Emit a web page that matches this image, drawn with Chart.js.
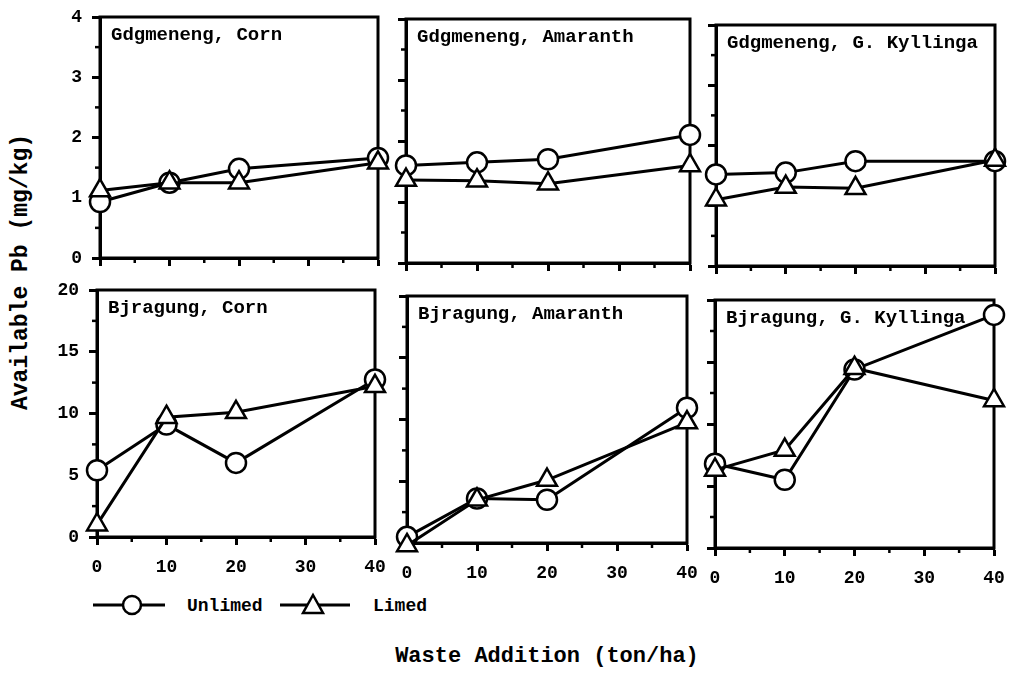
<!DOCTYPE html>
<html><head><meta charset="utf-8">
<script src="https://cdn.jsdelivr.net/npm/chart.js@4.4.1/dist/chart.umd.min.js"></script>
<style>
html,body{margin:0;padding:0;background:#fff;width:1009px;height:676px;overflow:hidden;}
body{position:relative;font-family:"Liberation Mono","DejaVu Sans Mono",monospace;font-weight:bold;color:#000;}
canvas{position:absolute;}
.t{position:absolute;white-space:pre;font-weight:bold;line-height:1;}
#ytitle{left:21px;top:272px;font-size:23px;transform:translate(-50%,-50%) rotate(-90deg);}
#xtitle{left:547px;top:657px;font-size:22px;transform:translate(-50%,-50%);}
#legend{position:absolute;left:0;top:0;width:1009px;height:676px;pointer-events:none;}
.lt{font-size:18px;transform:translateY(-50%);}
</style></head><body>
<div class="t" id="ytitle">Available Pb (mg/kg)</div>
<div class="t" id="xtitle">Waste Addition (ton/ha)</div>
<svg id="legend" width="1009" height="676">
  <line x1="93" y1="605" x2="165" y2="605" stroke="#000" stroke-width="3"/>
  <circle cx="132" cy="605" r="9" fill="#fff" stroke="#000" stroke-width="2.5"/>
  <line x1="280" y1="605" x2="350" y2="605" stroke="#000" stroke-width="3"/>
  <polygon points="313,595 323,613 303,613" fill="#fff" stroke="#000" stroke-width="2.5"/>
</svg>
<div class="t lt" style="left:187px;top:606px;">Unlimed</div>
<div class="t lt" style="left:373px;top:606px;">Limed</div>
<script>
// ---- data ----
const wasteAddition = [0, 10, 20, 40];
const xTickValues = [0, 10, 20, 30, 40];
const topYTicks = [0, 1, 2, 3, 4];
const bottomYTicks = [0, 5, 10, 15, 20];
const seriesNames = ['Unlimed', 'Limed'];
const panelTitles = ['Gdgmeneng, Corn', 'Gdgmeneng, Amaranth', 'Gdgmeneng, G. Kyllinga',
                     'Bjragung, Corn', 'Bjragung, Amaranth', 'Bjragung, G. Kyllinga'];
const unlimedGdCorn = [0.93, 1.25, 1.48, 1.66];
const limedGdCorn   = [1.12, 1.25, 1.25, 1.58];
const unlimedGdAmaranth = [1.6, 1.65, 1.7, 2.1];
const limedGdAmaranth   = [1.36, 1.35, 1.3, 1.6];
const unlimedGdKyllinga = [1.52, 1.55, 1.74, 1.74];
const limedGdKyllinga   = [1.1, 1.31, 1.29, 1.76];
const unlimedBjCorn = [5.4, 9.1, 6.0, 12.75];
const limedBjCorn   = [1.0, 9.7, 10.1, 12.2];
const unlimedBjAmaranth = [0.5, 3.6, 3.5, 10.95];
const limedBjAmaranth   = [-0.2, 3.5, 5.1, 9.75];
const unlimedBjKyllinga = [6.8, 5.5, 14.4, 18.8];
const limedBjKyllinga   = [6.3, 7.9, 14.5, 11.9];

const panelSeries = [
  [unlimedGdCorn, limedGdCorn], [unlimedGdAmaranth, limedGdAmaranth], [unlimedGdKyllinga, limedGdKyllinga],
  [unlimedBjCorn, limedBjCorn], [unlimedBjAmaranth, limedBjAmaranth], [unlimedBjKyllinga, limedBjKyllinga]
];

// ---- layout (plot-area boxes, px) ----
const boxes = [
  {l:100, r:378, t:15,  b:260}, {l:406, r:690, t:17,  b:265}, {l:716, r:995, t:23,  b:268},
  {l:97,  r:375, t:288, b:537}, {l:407, r:687, t:294, b:543}, {l:715, r:994, t:298, b:548}
];
const FONT = {family:'"Liberation Mono", monospace', weight:'bold', size:18};
const YW = 45, PADT = 12, PADR = 14;

const framePlugin = {
  id:'frame',
  beforeDatasetsDraw(chart, args, opts){
    const {ctx, chartArea:a} = chart;
    ctx.save();
    ctx.strokeStyle = '#000'; ctx.lineWidth = 3;
    ctx.strokeRect(a.left, a.top, a.right - a.left, a.bottom - a.top);
    // minor ticks
    ctx.lineWidth = 2.5;
    const xs = chart.scales.x, ys = chart.scales.y;
    for (let v = 5; v < 40; v += 10) {
      const px = xs.getPixelForValue(v);
      ctx.beginPath(); ctx.moveTo(px, a.bottom); ctx.lineTo(px, a.bottom + 5); ctx.stroke();
    }
    const st = opts.minorStep;
    for (let v = st; v < ys.max; v += 2*st) {
      const py = ys.getPixelForValue(v);
      ctx.beginPath(); ctx.moveTo(a.left, py); ctx.lineTo(a.left - 5, py); ctx.stroke();
    }
    // panel title
    ctx.fillStyle = '#000';
    ctx.font = 'bold 19px "Liberation Mono", monospace';
    ctx.textBaseline = 'alphabetic'; ctx.textAlign = 'left';
    ctx.fillText(opts.title, a.left + 11, a.top + 23);
    ctx.restore();
  }
};

panelSeries.forEach((ser, i) => {
  const B = boxes[i];
  const row = i < 3 ? 0 : 1, col = i % 3;
  const H = row === 0 ? 12 : 45;
  const cw = (B.r - B.l) + YW + PADR, ch = (B.b - B.t) + PADT + H;
  const cv = document.createElement('canvas');
  cv.width = cw; cv.height = ch;
  cv.style.left = (B.l - YW) + 'px'; cv.style.top = (B.t - PADT) + 'px';
  cv.style.width = cw + 'px'; cv.style.height = ch + 'px';
  document.body.appendChild(cv);
  const yTicks = row === 0 ? topYTicks : bottomYTicks;
  const mk = (vals, k) => ({
    label: seriesNames[k],
    data: wasteAddition.map((x, j) => ({x, y: vals[j]})),
    borderColor:'#000', borderWidth:3, tension:0,
    pointStyle: k === 0 ? 'circle' : 'triangle',
    pointRadius: k === 0 ? 10 : 11.5,
    pointBackgroundColor:'#fff', pointBorderColor:'#000', pointBorderWidth:2.5,
    clip:false, order: k === 0 ? 1 : 0
  });
  new Chart(cv, {
    type:'line',
    data:{datasets:[mk(ser[0],0), mk(ser[1],1)]},
    options:{
      responsive:false, animation:false, devicePixelRatio:1,
      layout:{padding:{top:PADT, right:PADR, left:0, bottom:0}},
      plugins:{legend:{display:false}, tooltip:{enabled:false}, title:{display:false},
               frame:{title: panelTitles[i], minorStep: row === 0 ? 0.5 : 2.5}},
      scales:{
        x:{type:'linear', min:0, max:40,
           afterBuildTicks: s => { s.ticks = xTickValues.map(v => ({value:v})); },
           afterFit: s => { s.height = H; s.paddingLeft = 0; s.paddingRight = 0; s.paddingTop = 0; s.paddingBottom = 0; },
           grid:{drawOnChartArea:false, drawTicks:true, tickLength:8, tickWidth:3, tickColor:'#000'},
           border:{color:'#000', width:3},
           ticks:{display: row === 1, color:'#000', font:FONT, padding:12, maxRotation:0, autoSkip:false}},
        y:{type:'linear', min:yTicks[0], max:yTicks[yTicks.length-1],
           afterBuildTicks: s => { s.ticks = yTicks.map(v => ({value:v})); },
           afterFit: s => { s.width = YW; s.paddingTop = 0; s.paddingBottom = 0; s.paddingLeft = 0; s.paddingRight = 0; },
           grid:{drawOnChartArea:false, drawTicks:true, tickLength:8, tickWidth:3, tickColor:'#000'},
           border:{color:'#000', width:3},
           ticks:{display: col === 0, color:'#000', font:FONT, padding:10, autoSkip:false}}
      }
    },
    plugins:[framePlugin]
  });
});
</script>
</body></html>
